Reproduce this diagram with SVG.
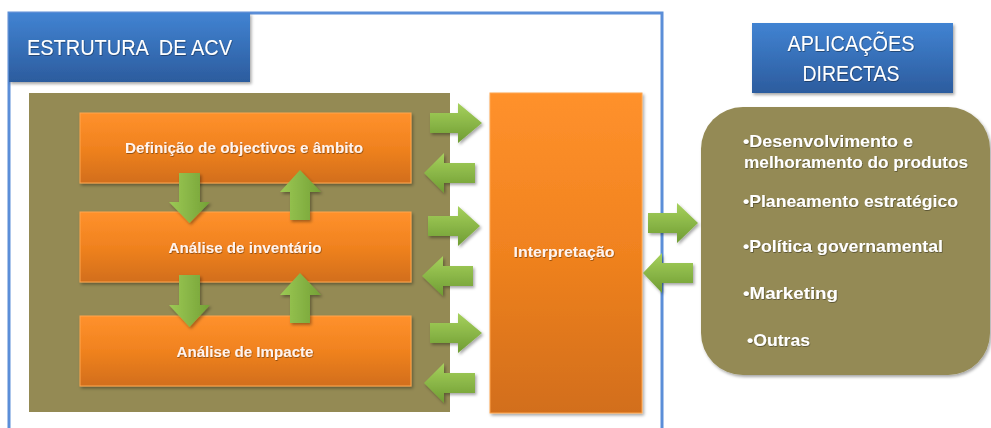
<svg xmlns="http://www.w3.org/2000/svg" width="991" height="428" viewBox="0 0 991 428">
<defs>
<linearGradient id="gBlue" x1="0" y1="0" x2="0" y2="1">
<stop offset="0" stop-color="#4183d2"/>
<stop offset="1" stop-color="#2c5c9e"/>
</linearGradient>
<linearGradient id="gOrange" x1="0" y1="0" x2="0" y2="1">
<stop offset="0" stop-color="#ff912c"/>
<stop offset="0.5" stop-color="#f0821f"/>
<stop offset="1" stop-color="#d26e1e"/>
</linearGradient>
<linearGradient id="gGreenH" x1="0" y1="0" x2="0" y2="1">
<stop offset="0" stop-color="#a6d15c"/>
<stop offset="1" stop-color="#6f9c33"/>
</linearGradient>
<linearGradient id="gGreenV" x1="0" y1="0" x2="1" y2="0">
<stop offset="0" stop-color="#9cc955"/>
<stop offset="1" stop-color="#74a136"/>
</linearGradient>
<filter id="sh" x="-10%" y="-10%" width="125%" height="130%">
<feDropShadow dx="1.5" dy="2" stdDeviation="1.5" flood-color="#000" flood-opacity="0.35"/>
</filter>
<filter id="tsh" x="-5%" y="-20%" width="110%" height="150%">
<feDropShadow dx="0.6" dy="0.8" stdDeviation="0.4" flood-color="#000" flood-opacity="0.45"/>
</filter>
</defs>
<style>
.title{font-family:"Liberation Sans",Arial,sans-serif;font-size:22px;fill:#ffffff}
.box{font-family:"Liberation Sans",Arial,sans-serif;font-size:15px;font-weight:bold;fill:#fff3ee;text-anchor:middle}
.item{font-family:"Liberation Sans",Arial,sans-serif;font-size:16.5px;font-weight:bold;fill:#ffffff}
.orange{fill:url(#gOrange);stroke:#ffa64d;stroke-width:1}
.ah{fill:url(#gGreenH)}
.av{fill:url(#gGreenV)}
</style>
<rect width="991" height="428" fill="#ffffff"/>

<g id="frame">
<rect x="9" y="13" width="653" height="430" fill="none" stroke="#5b8ed8" stroke-width="3"/>
</g>

<g id="title-acv">
<rect x="9" y="13" width="241" height="69" fill="url(#gBlue)" filter="url(#sh)"/>
<text class="title" x="27" y="55" textLength="205" lengthAdjust="spacingAndGlyphs" filter="url(#tsh)" xml:space="preserve">ESTRUTURA  DE ACV</text>
</g>

<g id="acv-panel">
<rect x="29" y="93" width="421" height="319" fill="#948a54"/>
</g>

<g id="node-definicao">
<rect class="orange" x="80" y="113" width="331" height="70" filter="url(#sh)"/>
<text class="box" x="244" y="153" textLength="238" lengthAdjust="spacingAndGlyphs" filter="url(#tsh)">Definição de objectivos e âmbito</text>
</g>

<g id="node-inventario">
<rect class="orange" x="80" y="212" width="331" height="70" filter="url(#sh)"/>
<text class="box" x="245" y="253" textLength="153" lengthAdjust="spacingAndGlyphs" filter="url(#tsh)">Análise de inventário</text>
</g>

<g id="node-impacte">
<rect class="orange" x="80" y="316" width="331" height="70" filter="url(#sh)"/>
<text class="box" x="245" y="357" textLength="137" lengthAdjust="spacingAndGlyphs" filter="url(#tsh)">Análise de Impacte</text>
</g>

<g id="node-interpretacao">
<rect class="orange" x="490" y="93" width="152" height="320" filter="url(#sh)"/>
<text class="box" x="564" y="257" textLength="101" lengthAdjust="spacingAndGlyphs" filter="url(#tsh)">Interpretação</text>
</g>

<g id="title-aplicacoes">
<rect x="752" y="23" width="201" height="70" fill="url(#gBlue)" filter="url(#sh)"/>
<text class="title" x="851" y="51" text-anchor="middle" textLength="127" lengthAdjust="spacingAndGlyphs" filter="url(#tsh)">APLICAÇÕES</text>
<text class="title" x="851" y="81" text-anchor="middle" textLength="97" lengthAdjust="spacingAndGlyphs" filter="url(#tsh)">DIRECTAS</text>
</g>

<g id="node-aplicacoes">
<rect x="701" y="107" width="289" height="268" rx="42" ry="42" fill="#948a54" filter="url(#sh)"/>
<text class="item" x="743" y="147" textLength="170" lengthAdjust="spacingAndGlyphs" filter="url(#tsh)">•Desenvolvimento e</text>
<text class="item" x="744" y="168" textLength="224" lengthAdjust="spacingAndGlyphs" filter="url(#tsh)">melhoramento do produtos</text>
<text class="item" x="743" y="207" textLength="215" lengthAdjust="spacingAndGlyphs" filter="url(#tsh)">•Planeamento estratégico</text>
<text class="item" x="743" y="252" textLength="200" lengthAdjust="spacingAndGlyphs" filter="url(#tsh)">•Política governamental</text>
<text class="item" x="743" y="299" textLength="95" lengthAdjust="spacingAndGlyphs" filter="url(#tsh)">•Marketing</text>
<text class="item" x="747" y="346" textLength="63" lengthAdjust="spacingAndGlyphs" filter="url(#tsh)">•Outras</text>
</g>

<g id="connectors" filter="url(#sh)">
<polygon class="av" points="179,173 200,173 200,202 210,202 189.5,223 169,202 179,202"/>
<polygon class="av" points="290,220 310,220 310,192 321,192 300,170 280,192 290,192"/>
<polygon class="av" points="179,275 200,275 200,305 210,305 189.5,327 169,305 179,305"/>
<polygon class="av" points="290,323 310,323 310,295 321,295 300,273 280,295 290,295"/>
<polygon class="ah" points="430,113 458,113 458,103 482,123 458,143 458,133 430,133"/>
<polygon class="ah" points="475,163 444,163 444,153 424,173 444,193 444,183 475,183"/>
<polygon class="ah" points="428,216 458,216 458,206 480,226 458,246 458,236 428,236"/>
<polygon class="ah" points="473,266 443,266 443,256 422,276 443,296 443,286 473,286"/>
<polygon class="ah" points="430,323 458,323 458,313 482,333 458,353 458,343 430,343"/>
<polygon class="ah" points="475,373 444,373 444,363 424,383 444,403 444,393 475,393"/>
<polygon class="ah" points="648,213 677,213 677,203 698,223 677,243 677,233 648,233"/>
<polygon class="ah" points="693,263 662,263 662,253 643,273 662,293 662,283 693,283"/>
</g>
</svg>
